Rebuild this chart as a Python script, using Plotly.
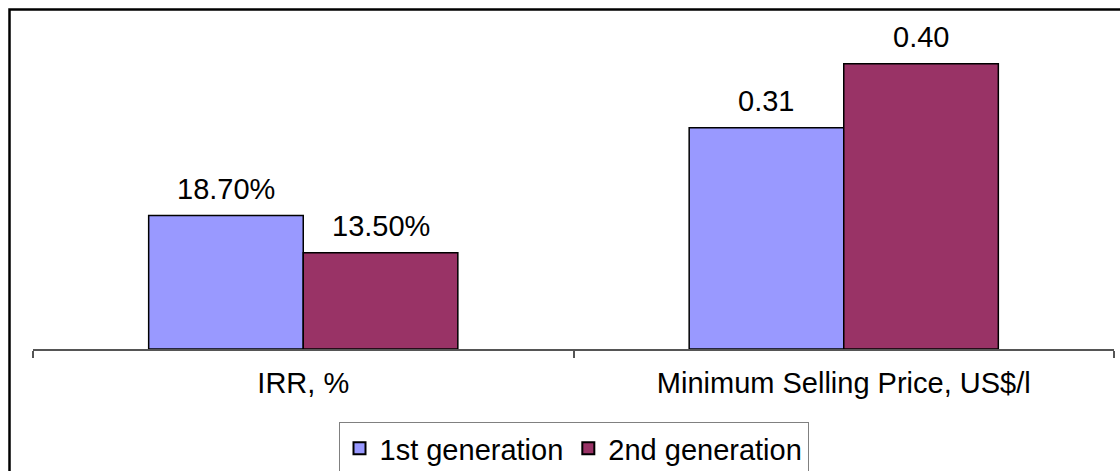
import plotly.graph_objects as go

# Chart data
categories = ["IRR, %", "Minimum Selling Price, US$/l"]
series_names = ["1st generation", "2nd generation"]
first_gen = [0.187, 0.31]
second_gen = [0.135, 0.40]
first_labels = ["18.70%", "0.31"]
second_labels = ["13.50%", "0.40"]

colors = ["#9999FF", "#993366"]
FONT = "Liberation Sans, Arial, sans-serif"
FS = 29

W, H = 1120, 471
ML, MR, MT, MB = 33, 6, 28, 122
BARGAP = 0.428

fig = go.Figure()
for name, vals, col in zip(series_names, [first_gen, second_gen], colors):
    fig.add_trace(go.Bar(
        x=categories, y=vals, name=name,
        marker=dict(color=col, line=dict(color="black", width=1.5)),
    ))

# value labels above each bar
plot_w = W - ML - MR
group_px = plot_w / len(categories) * (1 - BARGAP)
bar_px = group_px / 2
for k, (vals, labels) in enumerate([(first_gen, first_labels), (second_gen, second_labels)]):
    shift = (k - 0.5) * bar_px
    for c, v, t in zip(categories, vals, labels):
        fig.add_annotation(
            x=c, y=v, xref="x", yref="y", text=t, showarrow=False,
            xshift=shift, yshift=9, yanchor="bottom",
            font=dict(family=FONT, size=FS, color="black"),
        )

# outer chart frame
plot_h = H - MT - MB
fig.add_shape(
    type="rect", xref="paper", yref="paper",
    x0=(9.5 - ML) / plot_w, x1=1.2,
    y0=-0.6, y1=(plot_h + MT - 9.5) / plot_h,
    line=dict(color="black", width=2.5), fillcolor="rgba(0,0,0,0)",
    layer="below",
)

fig.update_layout(
    width=W, height=H,
    margin=dict(l=ML, r=MR, t=MT, b=MB, pad=0, autoexpand=False),
    paper_bgcolor="white", plot_bgcolor="white",
    barmode="group", bargap=BARGAP, bargroupgap=0,
    font=dict(family=FONT, size=FS, color="black"),
    showlegend=True,
    legend=dict(
        orientation="h", x=0.5, xanchor="center",
        y=-(422 - (H - MB)) / plot_h, yanchor="top",
        bordercolor="#808080", borderwidth=1,
        font=dict(family=FONT, size=FS, color="black"),
        itemsizing="constant",
    ),
    xaxis=dict(
        range=[-0.5, 1.5], showline=True, linecolor="#555555", linewidth=1.5,
        ticks="outside", tickson="boundaries", ticklen=7, tickcolor="#555555",
        tickwidth=1.5, showgrid=False, zeroline=False, automargin=False,
        tickfont=dict(family=FONT, size=FS, color="black"),
        ticklabelstandoff=7,
    ),
    yaxis=dict(
        range=[0, 0.45], visible=False, showgrid=False, zeroline=False,
        automargin=False,
    ),
)

fig.write_html("out.html")
